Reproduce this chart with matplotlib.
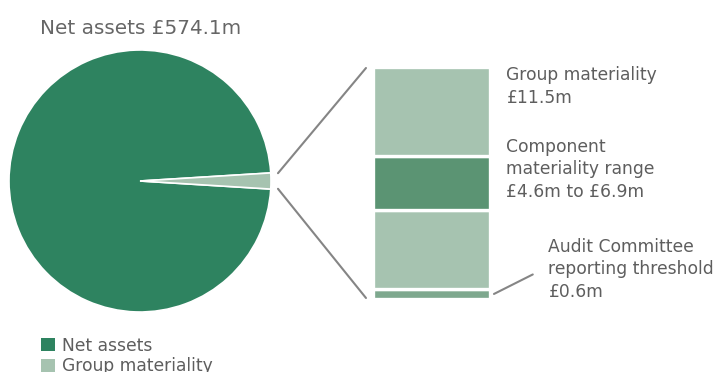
import numpy as np
import matplotlib
matplotlib.use("Agg")
import matplotlib.pyplot as plt
from matplotlib.patches import ConnectionPatch, Patch

# data (£m)
net_assets = 574.1
group_materiality = 11.5
pie_values = [net_assets, group_materiality]
pie_labels = ["Net assets", "Group materiality"]

# stacked bar: pieces of group materiality, bottom to top (as drawn)
bar_pieces = [0.5, 3.9, 2.7, 4.4]
bar_labels = ["Audit Committee\nreporting threshold\n£0.6m",
              "Component\nmateriality range\n£4.6m to £6.9m",
              "Group materiality\n£11.5m"]

title = "Net assets £574.1m"

c_dark = "#2e8360"
c_light = "#a6c3b0"
c_mid = "#5b9473"
c_thin = "#7ea88e"
txt = "#5e5e5e"
line_c = "#858585"

plt.rcParams['font.family'] = ['DejaVu Sans']

W, H = 717, 372
fig = plt.figure(figsize=(W / 100, H / 100), dpi=100)

def px_rect(x0, y0, x1, y1):
    return [x0 / W, 1 - y1 / H, (x1 - x0) / W, (y1 - y0) / H]

# pie
ax = fig.add_axes(px_rect(9, 50, 271, 312))
half = 180 * group_materiality / sum(pie_values)
ax.pie(pie_values, colors=[c_dark, c_light], startangle=-half, counterclock=False,
       wedgeprops=dict(edgecolor="white", linewidth=1.2), radius=1)
ax.set_xlim(-1, 1)
ax.set_ylim(-1, 1)
ax.set_aspect("equal")
ax.axis("off")

# stacked bar
bx = fig.add_axes(px_rect(373, 67, 490, 299))
colors = [c_thin, c_light, c_mid, c_light]
bottom = 0
for v, c in zip(bar_pieces, colors):
    bx.bar(0.5, v, width=1, bottom=bottom, color=c, edgecolor="white", linewidth=2.4)
    bottom += v
bx.set_xlim(0, 1)
bx.set_ylim(0, sum(bar_pieces))
bx.axis("off")

# connectors from pie slice to bar
a = np.deg2rad(half - 0.3)
r = 1.055
top = sum(bar_pieces)
con1 = ConnectionPatch(xyA=(r * np.cos(a), r * np.sin(a)), coordsA=ax.transData,
                       xyB=(-0.06, top - 0.05), coordsB=bx.transData,
                       color=line_c, linewidth=1.5)
con2 = ConnectionPatch(xyA=(r * np.cos(a), -r * np.sin(a)), coordsA=ax.transData,
                       xyB=(-0.06, 0.05), coordsB=bx.transData,
                       color=line_c, linewidth=1.5)
fig.add_artist(con1)
fig.add_artist(con2)

# labels
fs = 12.3
ls = 1.33
bx.text(1.14, top + 0.05, bar_labels[2], va="top", ha="left", fontsize=fs,
        color=txt, linespacing=ls)
bx.text(1.14, top - 3.5, bar_labels[1], va="top", ha="left", fontsize=fs,
        color=txt, linespacing=ls)
bx.annotate(bar_labels[0], xy=(1.034, 0.25), xytext=(1.5, -0.1),
            va="bottom", ha="left", fontsize=fs, color=txt, linespacing=ls,
            annotation_clip=False,
            arrowprops=dict(arrowstyle="-", color=line_c, lw=1.5,
                            shrinkA=0, shrinkB=0, relpos=(-0.095, 0.42)))

fig.text(40 / W, 1 - 28 / H, title, fontsize=14.4, color="#666666", va="center", ha="left")

handles = [Patch(facecolor=c, edgecolor="none") for c in [c_dark, c_light]]
fig.legend(handles, pie_labels, loc="upper left", bbox_to_anchor=(34 / W, 1 - 330 / H),
           frameon=False, fontsize=fs, handlelength=0.8, handleheight=0.8,
           handletextpad=0.45, labelspacing=0.15, borderaxespad=0, labelcolor=txt)

fig.savefig("out.png", dpi=100)
